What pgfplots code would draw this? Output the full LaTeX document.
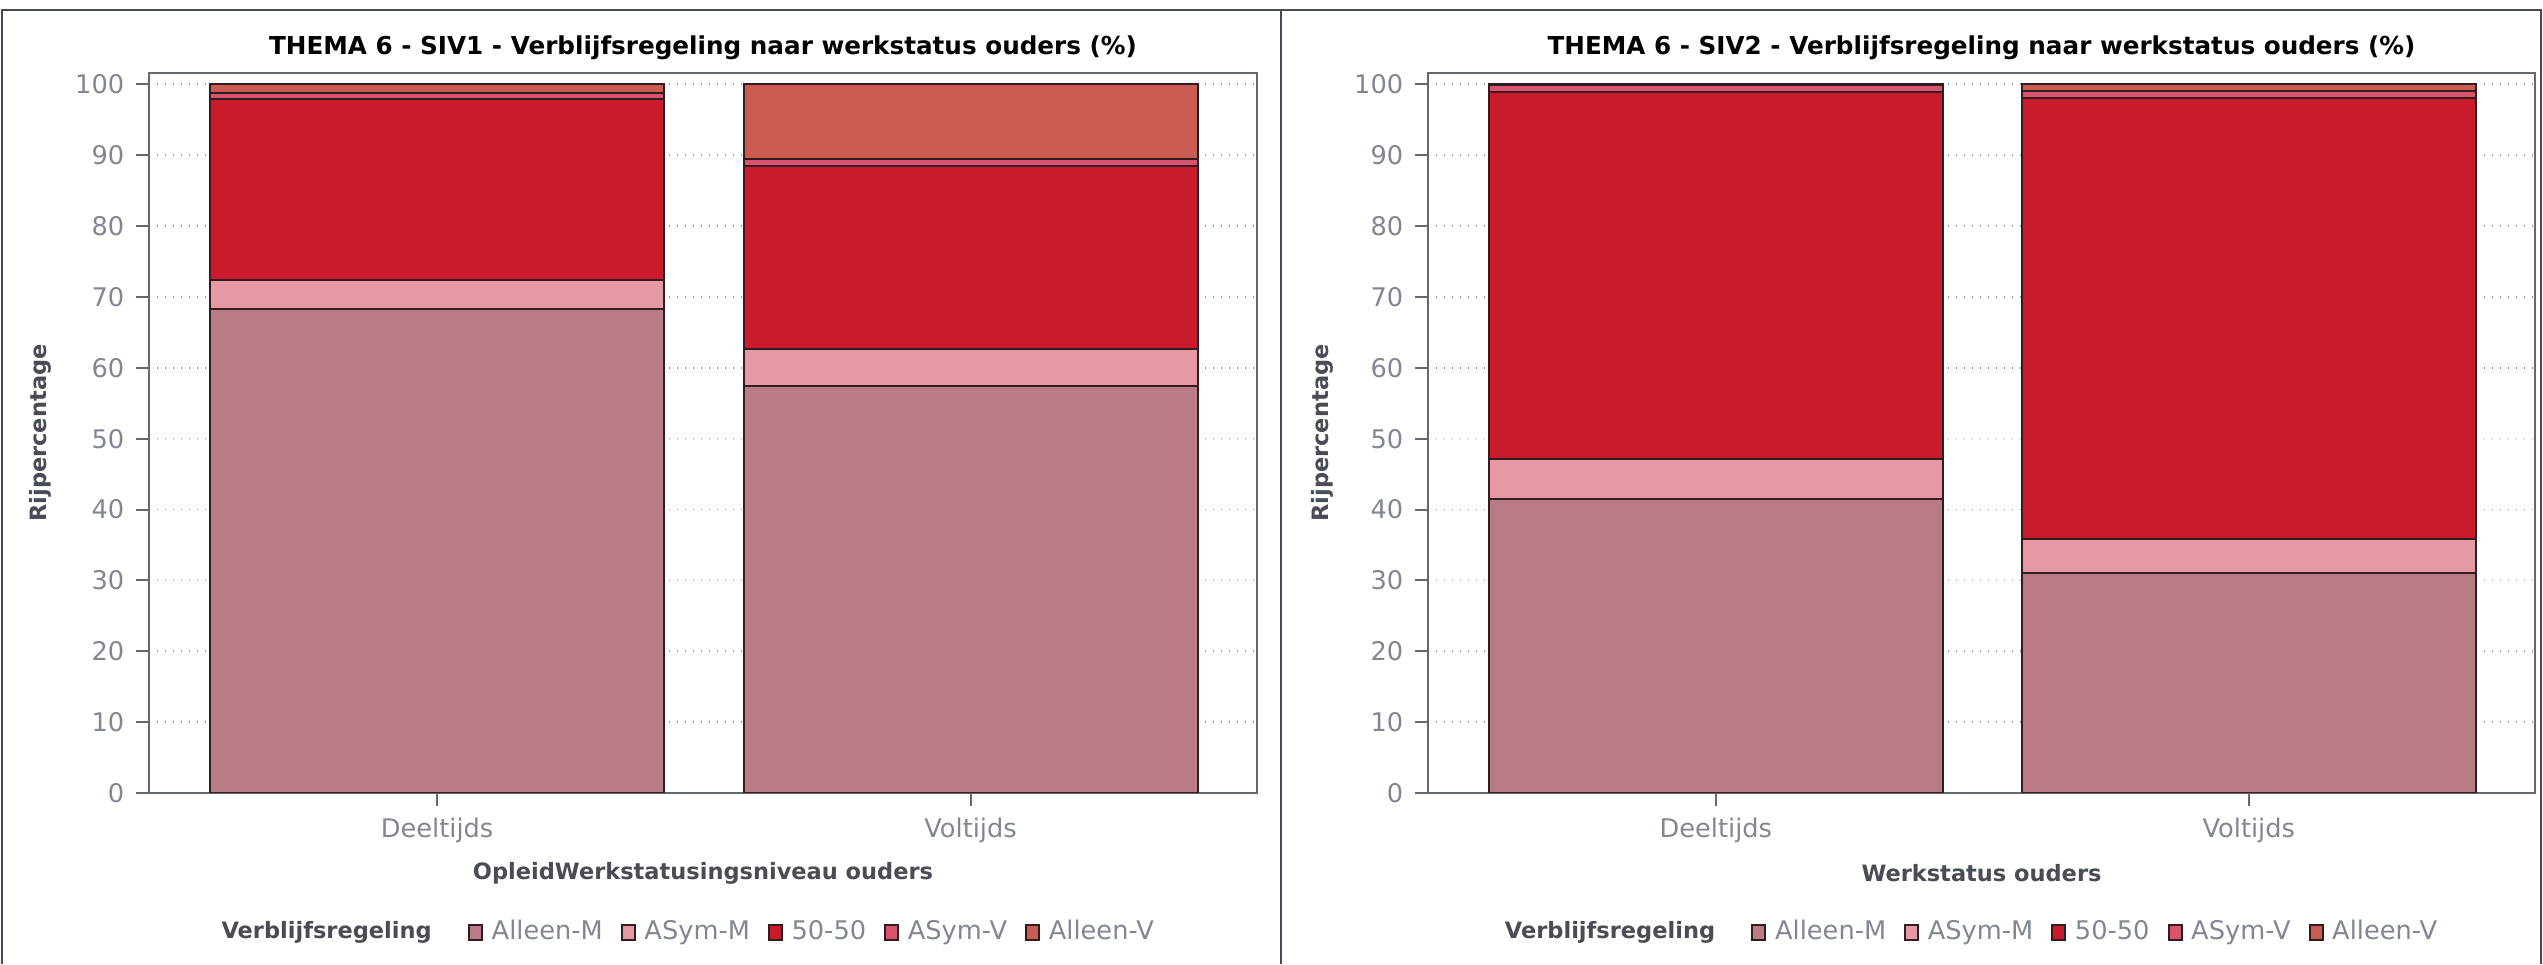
\documentclass[border=0pt]{standalone}
\usepackage{fontspec}
\setmainfont{DejaVu Sans}
\usepackage{pgfplots}
\usepackage{pgfplotstable}
\pgfplotsset{compat=1.18}

\definecolor{cAlleenM}{RGB}{185,124,135}
\definecolor{cASymM}{RGB}{228,153,165}
\definecolor{cFifty}{RGB}{202,27,44}
\definecolor{cASymV}{RGB}{216,84,110}
\definecolor{cAlleenV}{RGB}{203,92,82}
\definecolor{barline}{RGB}{50,28,32}
\definecolor{axisgray}{RGB}{100,104,112}
\definecolor{gridgray}{RGB}{150,154,160}
\definecolor{labelgray}{RGB}{128,135,147}
\definecolor{titlegray}{RGB}{72,76,84}
\definecolor{framegray}{RGB}{70,74,82}

% SIV1: verblijfsregeling per werkstatus (rijpercentages)
\pgfplotstableread{
cat AlleenM ASymM Fifty ASymV AlleenV
0   68.35   4.00  25.65 0.80  1.20
1   57.40   5.30  25.80 1.00  10.50
}\sivone

% SIV2
\pgfplotstableread{
cat AlleenM ASymM Fifty ASymV AlleenV
0   41.55   5.55  51.75 1.00  0.15
1   31.00   4.90  62.15 0.95  1.00
}\sivtwo

\newcommand{\legtitle}{\textcolor{titlegray}{\fontsize{6.75}{8}\selectfont\bfseries Verblijfsregeling}\kern5.5pt}

\pgfplotsset{
  sivstyle/.style={
    scale only axis, height=216pt,
    ymin=0, ymax=101.6, xmin=-0.54, xmax=1.537,
    ybar stacked, bar width=0.851,
    xtick={0,1}, xticklabels={Deeltijds,Voltijds},
    ytick={0,10,...,100},
    tick align=outside, major tick length=3.9pt,
    xtick pos=left, ytick pos=left,
    ymajorgrids, grid style={dotted, draw=gridgray, line width=0.5pt},
    axis line style={draw=axisgray, line width=0.6pt},
    every tick/.style={draw=axisgray, line width=0.6pt},
    tick label style={font=\fontsize{7.7}{9.2}\selectfont, text=labelgray},
    /pgf/number format/assume math mode=true,
    label style={font=\fontsize{6.75}{8}\selectfont\bfseries, text=titlegray},
    title style={font=\fontsize{7.4}{8.9}\selectfont\bfseries, text=black,
      at={(axis description cs:0.5,1)}, anchor=base, yshift=-0.6pt},
    xlabel style={at={(axis description cs:0.5,-0.111)}, anchor=center},
    legend columns=-1, legend cell align=left,
    legend style={draw=none, fill=none, inner sep=0pt, anchor=west,
      font=\fontsize{7.7}{9.2}\selectfont, text=labelgray,
      /tikz/every even column/.append style={column sep=3.4pt},
      /tikz/every odd column/.append style={column sep=0.6pt}},
    legend image code/.code={\draw[#1, draw=barline, line width=0.6pt] (0pt,-2.2pt) rectangle (3.9pt,2.2pt);},
  },
  segment/.style={fill=#1, draw=barline, line width=0.6pt},
}

\begin{document}
\begin{tikzpicture}
\useasboundingbox (0,0) rectangle (762.9pt,289.2pt);
\draw[framegray, line width=0.7pt] (0.6pt,0) -- (0.6pt,286.2pt) -- (762.3pt,286.2pt) -- (762.3pt,0);
\draw[framegray, line width=0.7pt] (384.3pt,0) -- (384.3pt,286.2pt);

\begin{axis}[sivstyle, at={(44.7pt,51.3pt)}, anchor=south west, width=332.4pt,
    title={THEMA 6 - SIV1 - Verblijfsregeling naar werkstatus ouders (\%)},
    xlabel={OpleidWerkstatusingsniveau ouders},
    ylabel={Rijpercentage},
    ylabel style={at={(axis description cs:-0.0984,0.5)}, anchor=center},
    legend style={at={(axis description cs:0.057,-0.194)}}]
  \addlegendimage{empty legend}
  \addlegendentry{\legtitle}
  \addplot[segment=cAlleenM] table[x=cat, y=AlleenM] {\sivone};
  \addlegendentry{Alleen-M}
  \addplot[segment=cASymM] table[x=cat, y=ASymM] {\sivone};
  \addlegendentry{ASym-M}
  \addplot[segment=cFifty] table[x=cat, y=Fifty] {\sivone};
  \addlegendentry{50-50}
  \addplot[segment=cASymV] table[x=cat, y=ASymV] {\sivone};
  \addlegendentry{ASym-V}
  \addplot[segment=cAlleenV] table[x=cat, y=AlleenV] {\sivone};
  \addlegendentry{Alleen-V}
\end{axis}

\begin{axis}[sivstyle, at={(428.4pt,51.3pt)}, anchor=south west, width=332.1pt,
    title={THEMA 6 - SIV2 - Verblijfsregeling naar werkstatus ouders (\%)},
    xlabel={Werkstatus ouders},
    ylabel={Rijpercentage},
    ylabel style={at={(axis description cs:-0.0958,0.5)}, anchor=center},
    legend style={at={(axis description cs:0.061,-0.194)}}]
  \addlegendimage{empty legend}
  \addlegendentry{\legtitle}
  \addplot[segment=cAlleenM] table[x=cat, y=AlleenM] {\sivtwo};
  \addlegendentry{Alleen-M}
  \addplot[segment=cASymM] table[x=cat, y=ASymM] {\sivtwo};
  \addlegendentry{ASym-M}
  \addplot[segment=cFifty] table[x=cat, y=Fifty] {\sivtwo};
  \addlegendentry{50-50}
  \addplot[segment=cASymV] table[x=cat, y=ASymV] {\sivtwo};
  \addlegendentry{ASym-V}
  \addplot[segment=cAlleenV] table[x=cat, y=AlleenV] {\sivtwo};
  \addlegendentry{Alleen-V}
\end{axis}
\end{tikzpicture}
\end{document}
